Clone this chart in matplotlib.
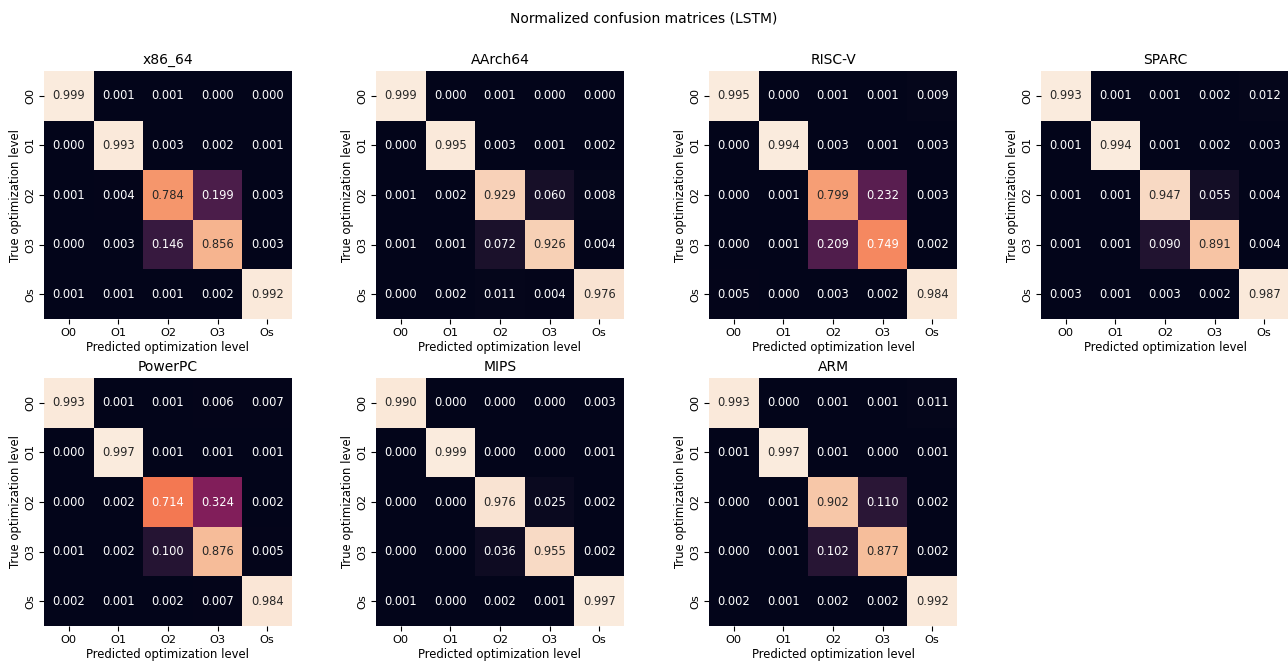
import numpy as np
import matplotlib
matplotlib.use("Agg")
import matplotlib.pyplot as plt
import seaborn as sns

levels = ["O0", "O1", "O2", "O3", "Os"]
arch_names = ["x86_64", "AArch64", "RISC-V", "SPARC", "PowerPC", "MIPS", "ARM"]

x86_64 = [
    [0.999, 0.001, 0.001, 0.000, 0.000],
    [0.000, 0.993, 0.003, 0.002, 0.001],
    [0.001, 0.004, 0.784, 0.199, 0.003],
    [0.000, 0.003, 0.146, 0.856, 0.003],
    [0.001, 0.001, 0.001, 0.002, 0.992],
]
aarch64 = [
    [0.999, 0.000, 0.001, 0.000, 0.000],
    [0.000, 0.995, 0.003, 0.001, 0.002],
    [0.001, 0.002, 0.929, 0.060, 0.008],
    [0.001, 0.001, 0.072, 0.926, 0.004],
    [0.000, 0.002, 0.011, 0.004, 0.976],
]
riscv = [
    [0.995, 0.000, 0.001, 0.001, 0.009],
    [0.000, 0.994, 0.003, 0.001, 0.003],
    [0.000, 0.001, 0.799, 0.232, 0.003],
    [0.000, 0.001, 0.209, 0.749, 0.002],
    [0.005, 0.000, 0.003, 0.002, 0.984],
]
sparc = [
    [0.993, 0.001, 0.001, 0.002, 0.012],
    [0.001, 0.994, 0.001, 0.002, 0.003],
    [0.001, 0.001, 0.947, 0.055, 0.004],
    [0.001, 0.001, 0.090, 0.891, 0.004],
    [0.003, 0.001, 0.003, 0.002, 0.987],
]
powerpc = [
    [0.993, 0.001, 0.001, 0.006, 0.007],
    [0.000, 0.997, 0.001, 0.001, 0.001],
    [0.000, 0.002, 0.714, 0.324, 0.002],
    [0.001, 0.002, 0.100, 0.876, 0.005],
    [0.002, 0.001, 0.002, 0.007, 0.984],
]
mips = [
    [0.990, 0.000, 0.000, 0.000, 0.003],
    [0.000, 0.999, 0.000, 0.000, 0.001],
    [0.000, 0.000, 0.976, 0.025, 0.002],
    [0.000, 0.000, 0.036, 0.955, 0.002],
    [0.001, 0.000, 0.002, 0.001, 0.997],
]
arm = [
    [0.993, 0.000, 0.001, 0.001, 0.011],
    [0.001, 0.997, 0.001, 0.000, 0.001],
    [0.000, 0.001, 0.902, 0.110, 0.002],
    [0.000, 0.001, 0.102, 0.877, 0.002],
    [0.002, 0.001, 0.002, 0.002, 0.992],
]

matrices = [x86_64, aarch64, riscv, sparc, powerpc, mips, arm]

W, H = 1288, 661
fig = plt.figure(figsize=(W / 100, H / 100), dpi=100)
fig.suptitle("Normalized confusion matrices (LSTM)", fontsize=10, y=1 - 18 / H, va="center")

col_left = [44, 376, 709, 1041]
row_top = [71, 378]
size = 248

for i, (name, mat) in enumerate(zip(arch_names, matrices)):
    r, c = divmod(i, 4)
    ax = fig.add_axes([col_left[c] / W, 1 - (row_top[r] + size) / H, size / W, size / H])
    sns.heatmap(np.array(mat), ax=ax, annot=True, fmt=".3f", cbar=False,
                cmap="rocket", xticklabels=levels, yticklabels=levels,
                annot_kws={"fontsize": 8.3})
    ax.set_title(name, fontsize=10, pad=5)
    ax.set_xlabel("Predicted optimization level", fontsize=8.4, labelpad=2)
    ax.set_ylabel("True optimization level", fontsize=8.4, labelpad=2)
    ax.tick_params(axis="both", labelsize=8.2, length=3.5, pad=3)
    plt.setp(ax.get_yticklabels(), rotation=90, va="center")
    plt.setp(ax.get_xticklabels(), rotation=0)

fig.savefig("out.png", dpi=100)
